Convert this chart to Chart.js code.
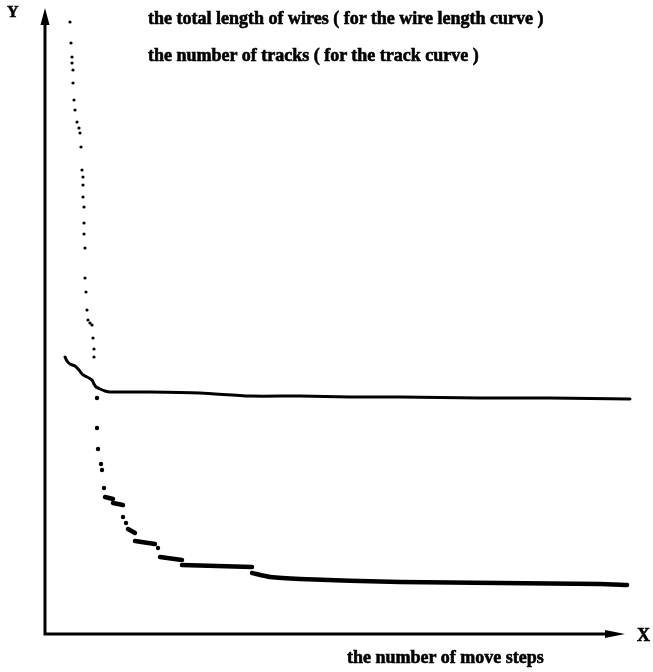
<!DOCTYPE html>
<html>
<head>
<meta charset="utf-8">
<script src="https://cdn.jsdelivr.net/npm/chart.js@4/dist/chart.umd.min.js"></script>
<style>
  html, body { margin: 0; padding: 0; background: #fff; }
  #wrap { position: relative; width: 653px; height: 672px; }
  .lbl {
    position: absolute; white-space: nowrap; color: #000;
    font-family: "Liberation Serif", "DejaVu Serif", serif; font-weight: bold;
    line-height: 1; -webkit-text-stroke: 0.6px #000;
  }
</style>
</head>
<body>
<div id="wrap">
  <canvas id="plot" width="653" height="672"></canvas>
  <div class="lbl" style="left:7px; top:4px; font-size:16px;">Y</div>
  <div class="lbl" style="left:637px; top:626px; font-size:18px;">X</div>
  <div class="lbl" style="left:148px; top:9px; font-size:18px;">the total length of wires ( for the wire length curve )</div>
  <div class="lbl" style="left:148px; top:46px; font-size:18px;">the number of tracks ( for the track curve )</div>
  <div class="lbl" style="left:347px; top:648px; font-size:18px;">the number of move steps</div>
</div>
<script>
// units: x = move steps, y = value (arbitrary)
const X_MAX = 581;
const Y_MAX = 626;

// wire length: sparse dots in the steep part
const wireDotsTop = [
  [26,612],[27,591],[28,577],[28,571],[29,564],[29,551],[30,534],[31,524],[33,512],[35,506],
  [36,501],[37,487],[38,464],[39,457],[39,449],[39,437],[40,427],[40,411],[40,400],[41,386],
  [41,356],[42,342],[43,324],[44,314],[46,311],[48,309],[49,296],[50,285],[50,277]
];
// wire length: heavier dots lower down
const wireDotsLow = [
  [53,236],[53,206],[54,185],[57,170],[58,164],[60,146],[79,117],[82,111],[114,86]
];
// wire length: the run of dots that merge into short steps
const wireSteps = [
  [[61,137],[69,135]],
  [[69,131],[79,129]],
  [[84,105],[91,101]],
  [[91,93],[111,90]],
  [[116,77],[138,74]],
  [[138,69],[208,67]],
  [[208,61],[226,57],[256,55],[356,52],[456,51],[556,50],[583,49]]
];
// number of tracks
const trackCurve = [
  [21,277],[23,273],[26,270],[31,268],[35,264],[38,260],[41,258],[45,256],[48,254],[50,250],
  [52,247],[56,245],[61,243],[66,242],[106,242],[156,241],[206,238],[256,238],[306,237],
  [356,237],[436,236],[506,236],[586,235]
];

const toPts = arr => arr.map(p => ({ x: p[0], y: p[1] }));

const axesPlugin = {
  id: 'arrowAxes',
  afterDraw(chart) {
    const { ctx, chartArea: a } = chart;
    const x0 = a.left + 1, y0 = a.bottom;
    ctx.save();
    ctx.strokeStyle = '#000';
    ctx.fillStyle = '#000';
    ctx.lineWidth = 3;
    ctx.lineCap = 'square';
    ctx.beginPath();
    ctx.moveTo(x0, a.top + 12);
    ctx.lineTo(x0, y0);
    ctx.lineTo(a.right - 14, y0);
    ctx.stroke();
    // y arrow head
    ctx.beginPath();
    ctx.moveTo(x0, a.top);
    ctx.lineTo(x0 - 4.5, a.top + 17);
    ctx.lineTo(x0 + 4.5, a.top + 17);
    ctx.closePath();
    ctx.fill();
    // x arrow head
    ctx.beginPath();
    ctx.moveTo(a.right, y0);
    ctx.lineTo(a.right - 20, y0 - 4);
    ctx.lineTo(a.right - 20, y0 + 4);
    ctx.closePath();
    ctx.fill();
    ctx.restore();
  }
};

const datasets = [
  {
    label: 'tracks', type: 'line', data: toPts(trackCurve),
    borderColor: '#000', borderWidth: 3, pointRadius: 0, tension: 0.25, clip: false,
    borderCapStyle: 'round', borderJoinStyle: 'round'
  },
  {
    label: 'wire', data: toPts(wireDotsTop),
    backgroundColor: '#000', borderWidth: 0, pointRadius: 1.6, clip: false
  },
  {
    label: 'wire low', data: toPts(wireDotsLow),
    backgroundColor: '#000', borderWidth: 0, pointRadius: 2.2, clip: false
  }
];
wireSteps.forEach((seg, i) => {
  datasets.push({
    label: 'wire step ' + i, type: 'line', data: toPts(seg),
    borderColor: '#000', borderWidth: 4.5, pointRadius: 0, tension: 0.2, clip: false,
    borderCapStyle: 'round', borderJoinStyle: 'round'
  });
});

new Chart(document.getElementById('plot'), {
  type: 'scatter',
  data: { datasets },
  options: {
    responsive: false,
    animation: false,
    layout: { padding: { left: 44, right: 28, top: 8, bottom: 38 } },
    plugins: { legend: { display: false }, tooltip: { enabled: false } },
    scales: {
      x: { type: 'linear', min: 0, max: X_MAX, display: false },
      y: { type: 'linear', min: 0, max: Y_MAX, display: false }
    }
  },
  plugins: [axesPlugin]
});
</script>
</body>
</html>
